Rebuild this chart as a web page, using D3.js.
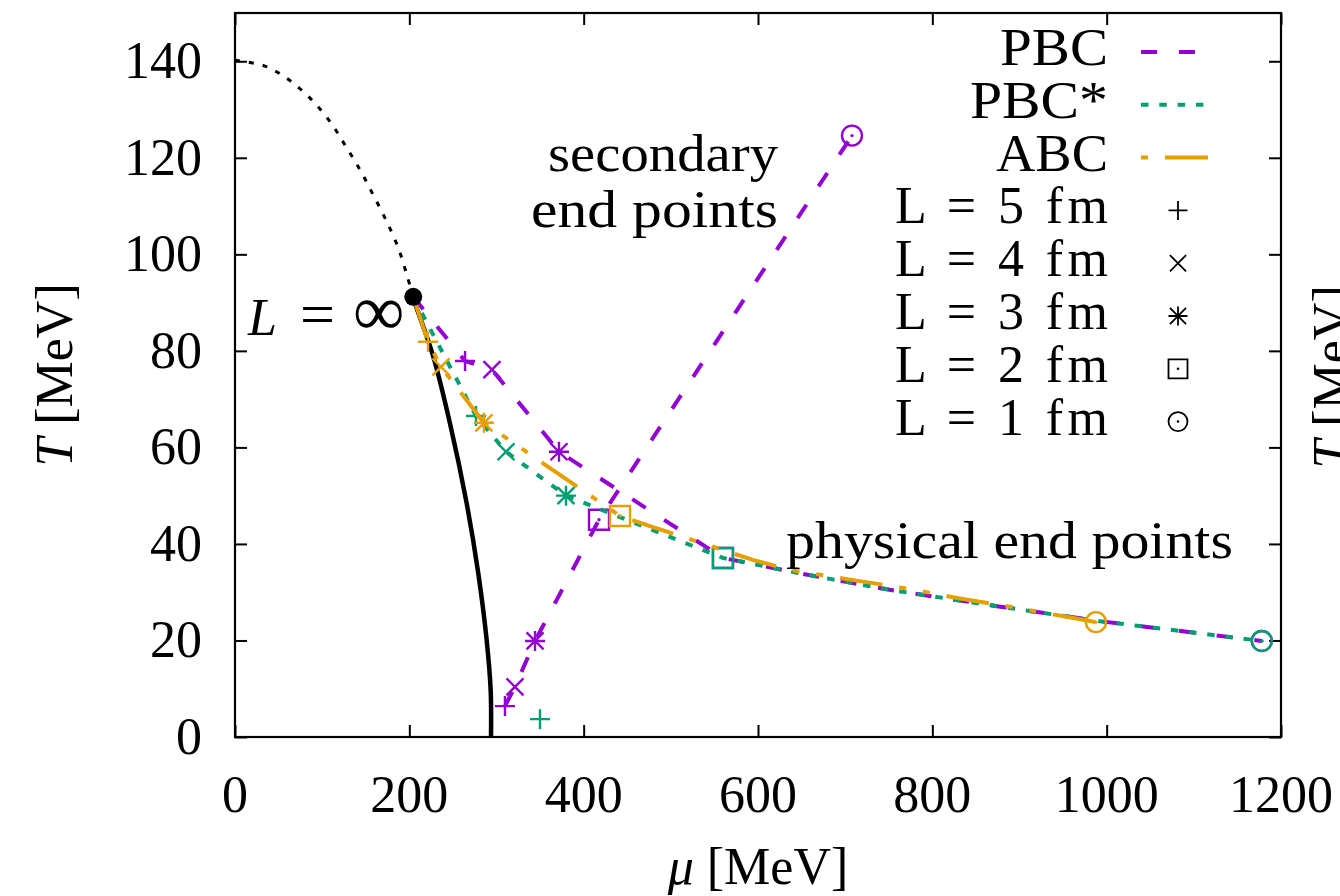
<!DOCTYPE html>
<html><head><meta charset="utf-8">
<script src="https://cdn.jsdelivr.net/npm/d3@7"></script>
<style>
html,body{margin:0;padding:0;background:#fff;overflow:hidden;}
svg{display:block;}
text{font-family:"Liberation Serif","DejaVu Serif",serif;fill:#000;}
</style></head>
<body>
<svg id="c" width="1340" height="896"></svg>
<script>
// ---------- data ----------
const xTicks = [0, 200, 400, 600, 800, 1000, 1200];
const yTicks = [0, 20, 40, 60, 80, 100, 120, 140];
const criticalPoint = [204.5, 91.2];
const crossoverCurve = [[0,140.2],[34.4,139.0],[63,136],[88,132],[109,127.5],[126,122.7],[143.4,117.5],[158.6,112.3],[174,106.8],[187.4,101.3],[197,95.8],[204.5,91.2]];
const firstOrderCurve = [[204.5,91.2],[206.5,89.9],[227.5,78.8],[246.6,65],[265.8,48.4],[279.1,33.9],[288.7,20.1],[293.3,9.7],[293.7,0]];
const pbcLine = [[204.5,91.2],[263.9,77.9],[294.8,76.1],[371.7,59.1],[559.8,37.1],[648,33.9],[751,30.5],[878,27.0],[992,24.0],[1178,19.9]];
const pbcMarkers = [[263.9,77.9],[294.8,76.1],[371.7,59.1],[559.8,37.1],[1178,19.9]];
const pbcSecondaryLine = [[309.7,6.4],[321.2,10.4],[344.2,19.9],[417.6,45.0],[707.8,124.6]];
const pbcSecondaryMarkers = [[309.7,6.4],[321.2,10.4],[344.2,19.9],[417.6,45.0],[707.8,124.6]];
const pbcStarLine = [[204.5,91.2],[276.5,66.5],[310.9,59.1],[379.7,50.0],[559.8,37.1],[648,33.9],[751,30.5],[878,27.0],[992,24.0],[1178,19.9]];
const pbcStarMarkers = [[276.5,66.5],[310.9,59.1],[379.7,50.0],[559.8,37.1],[1178,19.9]];
const pbcStarSecondaryMarkers = [[349.9,3.7]];
const abcLine = [[204.5,91.2],[221.4,81.9],[236.3,76.7],[285.6,65.1],[441.7,45.8],[479.5,43.5],[525,40.8],[594,36.7],[637,34.6],[713,32.4],[763,31.0],[835,28.6],[886,27.1],[954,24.9],[987.7,23.8]];
const abcMarkers = [[221.4,81.9],[236.3,76.7],[285.6,65.1],[441.7,45.8],[987.7,23.8]];
const markerTypes = ["plus","cross","star","box","circle"]; // L = 5,4,3,2,1 fm
const seriesNames = ["PBC","PBC*","ABC"];
const lengthLabels = ["L = 5 fm","L = 4 fm","L = 3 fm","L = 2 fm","L = 1 fm"];

// ---------- layout ----------
const svg = d3.select("#c");
const x = d3.scaleLinear().domain([0,1200]).range([235,1281]);
const y = d3.scaleLinear().domain([0,150]).range([737,13]);
const colors = {PBC:"#9400d3", "PBC*":"#009e73", ABC:"#e69f00"};
const dashes = {PBC:"16,22", "PBC*":"7.5,10.8", ABC:"43,17,7,17,7,17"};
const seriesTextLen = {PBC:108, "PBC*":138, ABC:112};

const line = d3.line().x(d=>x(d[0])).y(d=>y(d[1]));
const smooth = d3.line().x(d=>x(d[0])).y(d=>y(d[1])).curve(d3.curveCatmullRom.alpha(0.5));

function marker(g, type, cx, cy, color, sw, s) {
  s = s || 10;
  const p = d3.path();
  if (type==="plus"||type==="star") { p.moveTo(cx-s,cy); p.lineTo(cx+s,cy); p.moveTo(cx,cy-s); p.lineTo(cx,cy+s); }
  if (type==="cross"||type==="star") { const d=s*0.85; p.moveTo(cx-d,cy-d); p.lineTo(cx+d,cy+d); p.moveTo(cx-d,cy+d); p.lineTo(cx+d,cy-d); }
  if (type==="box") { p.rect(cx-s,cy-s,2*s,2*s); }
  if (type==="circle") { p.moveTo(cx+s,cy); p.arc(cx,cy,s,0,2*Math.PI); }
  g.append("path").attr("d",p.toString()).attr("fill","none").attr("stroke",color).attr("stroke-width",sw);
  if (type==="box"||type==="circle") g.append("circle").attr("cx",cx).attr("cy",cy).attr("r",sw*0.7).attr("fill",color);
}

// ---------- axes / frame ----------
const ax = svg.append("g");
ax.append("g").attr("transform","translate(0,737)")
  .call(d3.axisBottom(x).tickValues(xTicks).tickSize(-12).tickPadding(0).tickFormat(""));
ax.append("g").attr("transform","translate(0,13)")
  .call(d3.axisTop(x).tickValues(xTicks).tickSize(-12).tickFormat(""));
ax.append("g").attr("transform","translate(235,0)")
  .call(d3.axisLeft(y).tickValues(yTicks).tickSize(-12).tickFormat(""));
ax.append("g").attr("transform","translate(1281,0)")
  .call(d3.axisRight(y).tickValues(yTicks).tickSize(-12).tickFormat(""));
ax.selectAll(".domain").remove();
ax.selectAll(".tick line").attr("stroke","#000").attr("stroke-width",2);
svg.append("rect").attr("x",235).attr("y",13).attr("width",1046).attr("height",724)
  .attr("fill","none").attr("stroke","#000").attr("stroke-width",2.2);

// tick labels
svg.append("g").selectAll("text").data(xTicks).join("text")
  .attr("x",d=>x(d)).attr("y",812).attr("text-anchor","middle").attr("font-size",52).text(d=>d);
svg.append("g").selectAll("text").data(yTicks).join("text")
  .attr("x",202).attr("y",d=>y(d)+17).attr("text-anchor","end").attr("font-size",52).text(d=>d);

// axis titles
const xt = svg.append("text").attr("x",758).attr("y",884).attr("text-anchor","middle").attr("font-size",52);
xt.append("tspan").attr("font-style","italic").text("μ");
xt.append("tspan").text(" [MeV]");
const yt = svg.append("text").attr("transform","translate(72,375) rotate(-90)").attr("text-anchor","middle").attr("font-size",52);
yt.append("tspan").attr("font-style","italic").text("T");
yt.append("tspan").text(" [MeV]");
const yt2 = svg.append("text").attr("transform","translate(1349,377) rotate(-90)").attr("text-anchor","middle").attr("font-size",52);
yt2.append("tspan").attr("font-style","italic").text("T");
yt2.append("tspan").text(" [MeV]");

// ---------- curves ----------
const plot = svg.append("g");
plot.append("path").attr("d",smooth(crossoverCurve)).attr("fill","none").attr("stroke","#000")
  .attr("stroke-width",3).attr("stroke-dasharray","5,9");
plot.append("path").attr("d",smooth(firstOrderCurve)).attr("fill","none").attr("stroke","#000").attr("stroke-width",4.5);

function series(name, lineData, markers, secLine, secMarkers) {
  const c = colors[name];
  if (lineData) plot.append("path").attr("d",line(lineData)).attr("fill","none").attr("stroke",c)
    .attr("stroke-width",4).attr("stroke-dasharray",dashes[name]);
  if (secLine) plot.append("path").attr("d",line(secLine)).attr("fill","none").attr("stroke",c)
    .attr("stroke-width",4).attr("stroke-dasharray",dashes[name]);
  const g = plot.append("g");
  markers.forEach((m,i)=>marker(g, markerTypes[i], x(m[0]), y(m[1]), c, 2.4));
  if (secMarkers) secMarkers.forEach((m,i)=>marker(g, markerTypes[i], x(m[0]), y(m[1]), c, 2.4));
}
series("PBC", pbcLine, pbcMarkers, pbcSecondaryLine, pbcSecondaryMarkers);
series("PBC*", pbcStarLine, pbcStarMarkers, null, pbcStarSecondaryMarkers);
series("ABC", abcLine, abcMarkers, null, null);

plot.append("circle").attr("cx",x(criticalPoint[0])).attr("cy",y(criticalPoint[1])).attr("r",9).attr("fill","#000");

// ---------- annotations ----------
const li = svg.append("text").attr("y",335).attr("font-size",52);
li.append("tspan").attr("x",248).attr("font-style","italic").text("L");
li.append("tspan").attr("x",300).attr("font-size",62).text("=");
li.append("tspan").attr("x",353).attr("font-size",72).text("∞");
svg.append("text").attr("x",548).attr("y",171).attr("font-size",52)
  .attr("textLength",230).attr("lengthAdjust","spacingAndGlyphs").text("secondary");
svg.append("text").attr("x",531).attr("y",227).attr("font-size",52)
  .attr("textLength",247).attr("lengthAdjust","spacingAndGlyphs").text("end points");
svg.append("text").attr("x",786).attr("y",558).attr("font-size",52)
  .attr("textLength",447).attr("lengthAdjust","spacingAndGlyphs").text("physical end points");

// ---------- legend ----------
const lg = svg.append("g");
const rowY0 = 47, rowDy = 52.8;
seriesNames.forEach((n,i)=>{
  const cy = rowY0 + i*rowDy;
  lg.append("text").attr("x",1108-seriesTextLen[n]).attr("y",cy+18).attr("font-size",52)
    .attr("textLength",seriesTextLen[n]).attr("lengthAdjust","spacingAndGlyphs").text(n);
  const off = n==="ABC" ? 84 : 0;
  lg.append("line").attr("x1",1141).attr("x2",1208).attr("y1",cy+5).attr("y2",cy+5)
    .attr("stroke",colors[n]).attr("stroke-width",4).attr("stroke-dasharray",dashes[n]).attr("stroke-dashoffset",off);
});
lengthLabels.forEach((t,i)=>{
  const cy = rowY0 + (i+3)*rowDy;
  lg.append("text").attr("x",895).attr("y",cy+18).attr("font-size",52)
    .attr("textLength",213).attr("lengthAdjust","spacing").text(t);
  marker(lg, markerTypes[i], 1178, cy+5, "#000", 1.8, 9.5);
});
</script>
</body></html>
